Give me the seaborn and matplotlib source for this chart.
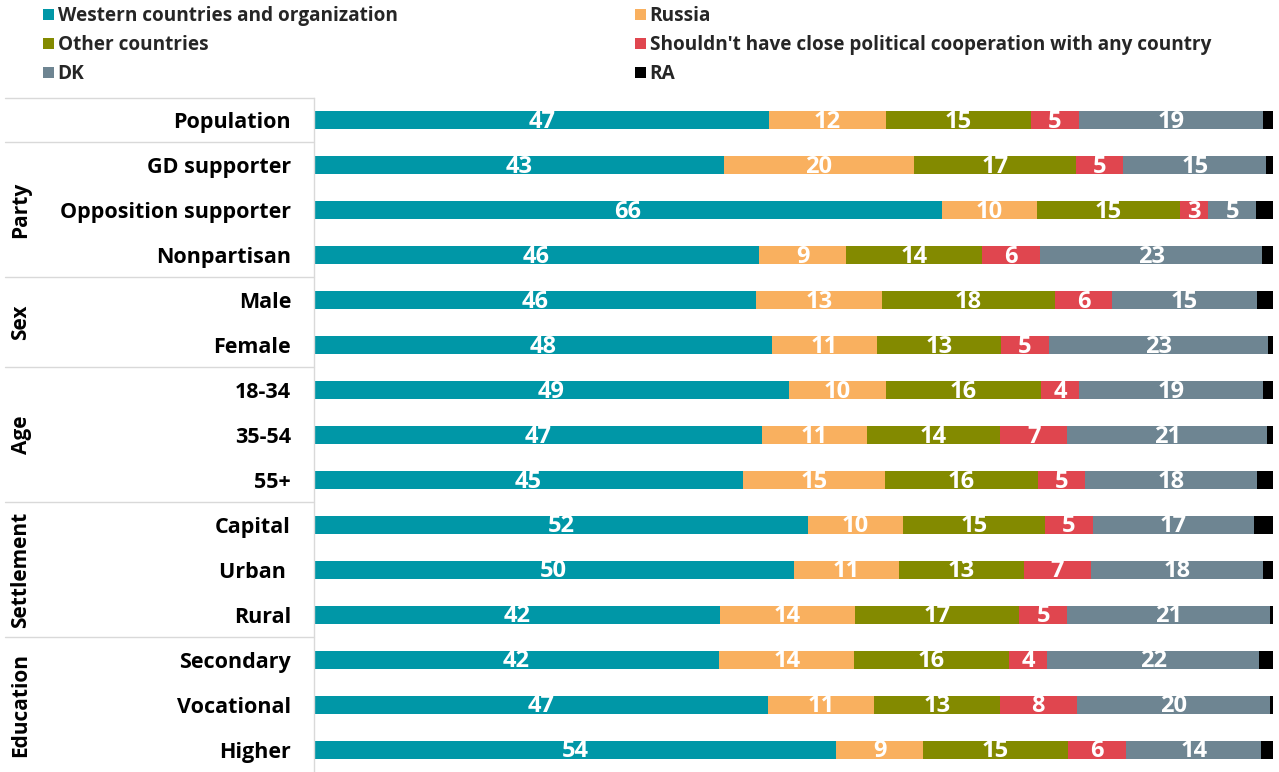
import numpy as np
import pandas as pd
import matplotlib
matplotlib.use("Agg")
import matplotlib.pyplot as plt
from matplotlib.patches import Patch
import seaborn as sns

# Survey rows (top to bottom) and grouping
rows = ["Population", "GD supporter", "Opposition supporter", "Nonpartisan",
        "Male", "Female", "18-34", "35-54", "55+",
        "Capital", "Urban ", "Rural", "Secondary", "Vocational", "Higher"]
groups = [("Party", 1, 3), ("Sex", 4, 5), ("Age", 6, 8),
          ("Settlement", 9, 11), ("Education", 12, 14)]

series = ["Western countries and organization", "Russia", "Other countries",
          "Shouldn't have close political cooperation with any country", "DK", "RA"]

western = [47, 43, 66, 46, 46, 48, 49, 47, 45, 52, 50, 42, 42, 47, 54]
russia = [12, 20, 10, 9, 13, 11, 10, 11, 15, 10, 11, 14, 14, 11, 9]
other = [15, 17, 15, 14, 18, 13, 16, 14, 16, 15, 13, 17, 16, 13, 15]
no_coop = [5, 5, 3, 6, 6, 5, 4, 7, 5, 5, 7, 5, 4, 8, 6]
dk = [19, 15, 5, 23, 15, 23, 19, 21, 18, 17, 18, 21, 22, 20, 14]
ra = [1.0, 0.7, 1.8, 1.1, 1.7, 0.5, 1.0, 0.6, 1.7, 2.0, 1.0, 0.3, 1.4, 0.3, 1.2]

colors = ["#0097A7", "#F9B05F", "#838A00", "#E0464F", "#6E8592", "#000000"]

values = np.array([western, russia, other, no_coop, dk, ra], dtype=float)
# 100% stacked: each row's segments are shares of its total
shares = values / values.sum(axis=0) * 100
cum = shares.cumsum(axis=0)
df = pd.DataFrame(cum.T, columns=series)
df["row"] = rows

sns.set_theme(style="white")
plt.rcParams["font.family"] = ["Open Sans", "DejaVu Sans"]
plt.rcParams["font.weight"] = "bold"

fig = plt.figure(figsize=(12.79, 7.72), dpi=100)
ax = fig.add_axes([314 / 1279, 0, 959 / 1279, 674.5 / 772])

# Stacked bars: draw cumulative totals from the outermost series inwards
for k in range(len(series) - 1, -1, -1):
    sns.barplot(data=df, x=series[k], y="row", order=rows, orient="h",
                color=colors[k], width=0.4, saturation=1, ax=ax,
                edgecolor="none", linewidth=0)

ax.set_xlim(0, 100)
ax.set_ylim(len(rows) - 0.5, -0.5)
ax.set_xlabel("")
ax.set_ylabel("")
ax.set_xticks([])
for s in ["top", "right", "bottom"]:
    ax.spines[s].set_visible(False)
ax.spines["left"].set_color("#D9D9D9")
ax.spines["left"].set_linewidth(1)
ax.tick_params(axis="y", length=0, pad=16.5)
for lab in ax.get_yticklabels():
    lab.set_fontsize(15.5)
    lab.set_fontweight("bold")
    lab.set_color("black")

# Value labels in the segments (RA left unlabeled)
for k in range(len(series) - 1):
    for i in range(len(rows)):
        left = cum[k, i] - shares[k, i]
        ax.text(left + shares[k, i] / 2, i + 0.04, f"{values[k, i]:g}",
                ha="center", va="center", color="white",
                fontsize=17, fontweight="bold")

# Group separators and rotated group names
tr = ax.get_yaxis_transform()
x0 = (5 - 314) / 959
for yb in [-0.5, 0.5, 3.5, 5.5, 8.5, 11.5]:
    ax.plot([x0, 0], [yb, yb], transform=tr, color="#D9D9D9", lw=1,
            clip_on=False)
for name, a, b in groups:
    ax.text((21 - 314) / 959, (a + b) / 2, name, transform=tr, rotation=90,
            ha="center", va="center", fontsize=15, fontweight="bold",
            color="black")

# Legend laid out row by row: two entries per row
order = [0, 2, 4, 1, 3, 5]
handles = [Patch(facecolor=colors[k], edgecolor="none") for k in order]
labels = [series[k] for k in order]
fig.legend(handles, labels, ncol=2, loc="upper left",
           bbox_to_anchor=(30 / 1279, 1.0 + 7 / 772), frameon=False,
           prop={"size": 13.7, "weight": "bold"},
           handlelength=0.55, handleheight=0.55, handletextpad=0.2,
           labelspacing=0.47, columnspacing=12.5, borderaxespad=0.3)

fig.savefig("out.png", dpi=100)
